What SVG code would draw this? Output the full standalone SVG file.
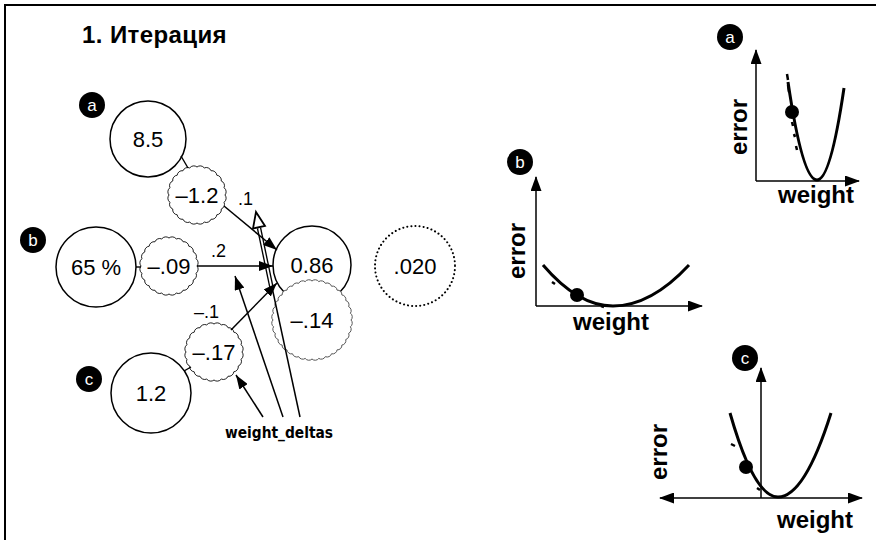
<svg xmlns="http://www.w3.org/2000/svg" xmlns:xlink="http://www.w3.org/1999/xlink" width="881" height="540" viewBox="0 0 881 540">
<style>
.nd{fill:#fff;stroke:#000;stroke-width:1.5}
.wv{fill:#fff;stroke:#222;stroke-width:1}
.wv2{fill:#fff;stroke:#555;stroke-width:1}
.dt{fill:#fff;stroke:#000;stroke-width:2;stroke-dasharray:0.1 4;stroke-linecap:round}
.t{font-family:"Liberation Sans",Arial,sans-serif;font-size:22px;text-anchor:middle;fill:#000}
.lb{font-family:"Liberation Sans",Arial,sans-serif;font-size:18px;fill:#000}
.bd{fill:#000}
.bt{font-family:"Liberation Sans",Arial,sans-serif;font-size:17px;text-anchor:middle;fill:#fff}
.cn{stroke:#000;stroke-width:1.5;fill:none;marker-end:url(#ah)}
.ln{stroke:#000;stroke-width:1.4;fill:none}
.ax{stroke:#000;stroke-width:1.5;fill:none;marker-end:url(#ax)}
.cv{stroke:#000;stroke-width:3;fill:none}
.tk{stroke:#000;stroke-width:2.5;fill:none}
.at{font-family:"Liberation Sans",Arial,sans-serif;font-weight:bold;font-size:24px;fill:#000}
.ti{font-family:"Liberation Sans",Arial,sans-serif;font-weight:bold;font-size:24px;fill:#000;letter-spacing:0.4px}
.wd{font-family:"DejaVu Sans Condensed","DejaVu Sans",sans-serif;font-stretch:condensed;font-weight:bold;font-size:16px;fill:#000}
</style>
<defs>
<marker id="ah" markerUnits="userSpaceOnUse" markerWidth="14" markerHeight="10" refX="14" refY="5" orient="auto">
<path d="M0,0 L14,5 L0,10 Z" fill="#000"/>
</marker>
<marker id="ax" markerUnits="userSpaceOnUse" markerWidth="15" markerHeight="11" refX="14" refY="5.5" orient="auto-start-reverse">
<path d="M0,0 L15,5.5 L0,11 Z" fill="#000"/>
</marker>
<path id="w28" d="M28,0 A5,5 0 0 1 27.05,7.25 A5,5 0 0 1 24.25,14 A5,5 0 0 1 19.8,19.8 A5,5 0 0 1 14,24.25 A5,5 0 0 1 7.25,27.05 A5,5 0 0 1 0,28 A5,5 0 0 1 -7.25,27.05 A5,5 0 0 1 -14,24.25 A5,5 0 0 1 -19.8,19.8 A5,5 0 0 1 -24.25,14 A5,5 0 0 1 -27.05,7.25 A5,5 0 0 1 -28,0 A5,5 0 0 1 -27.05,-7.25 A5,5 0 0 1 -24.25,-14 A5,5 0 0 1 -19.8,-19.8 A5,5 0 0 1 -14,-24.25 A5,5 0 0 1 -7.25,-27.05 A5,5 0 0 1 0,-28 A5,5 0 0 1 7.25,-27.05 A5,5 0 0 1 14,-24.25 A5,5 0 0 1 19.8,-19.8 A5,5 0 0 1 24.25,-14 A5,5 0 0 1 27.05,-7.25 A5,5 0 0 1 28,0 Z"/>
<path id="w39" d="M39,0 A4.5,4.5 0 0 1 38.41,6.77 A4.5,4.5 0 0 1 36.65,13.34 A4.5,4.5 0 0 1 33.77,19.5 A4.5,4.5 0 0 1 29.87,25.07 A4.5,4.5 0 0 1 25.07,29.87 A4.5,4.5 0 0 1 19.5,33.77 A4.5,4.5 0 0 1 13.34,36.65 A4.5,4.5 0 0 1 6.77,38.41 A4.5,4.5 0 0 1 0,39 A4.5,4.5 0 0 1 -6.77,38.41 A4.5,4.5 0 0 1 -13.34,36.65 A4.5,4.5 0 0 1 -19.5,33.77 A4.5,4.5 0 0 1 -25.07,29.87 A4.5,4.5 0 0 1 -29.87,25.07 A4.5,4.5 0 0 1 -33.77,19.5 A4.5,4.5 0 0 1 -36.65,13.34 A4.5,4.5 0 0 1 -38.41,6.77 A4.5,4.5 0 0 1 -39,0 A4.5,4.5 0 0 1 -38.41,-6.77 A4.5,4.5 0 0 1 -36.65,-13.34 A4.5,4.5 0 0 1 -33.77,-19.5 A4.5,4.5 0 0 1 -29.87,-25.07 A4.5,4.5 0 0 1 -25.07,-29.87 A4.5,4.5 0 0 1 -19.5,-33.77 A4.5,4.5 0 0 1 -13.34,-36.65 A4.5,4.5 0 0 1 -6.77,-38.41 A4.5,4.5 0 0 1 0,-39 A4.5,4.5 0 0 1 6.77,-38.41 A4.5,4.5 0 0 1 13.34,-36.65 A4.5,4.5 0 0 1 19.5,-33.77 A4.5,4.5 0 0 1 25.07,-29.87 A4.5,4.5 0 0 1 29.87,-25.07 A4.5,4.5 0 0 1 33.77,-19.5 A4.5,4.5 0 0 1 36.65,-13.34 A4.5,4.5 0 0 1 38.41,-6.77 A4.5,4.5 0 0 1 39,0 Z"/>
</defs>

<rect width="881" height="540" fill="#fff"/>
<g id="frame">
<path d="M5,540 L5,5 L876,5" stroke="#000" stroke-width="2" fill="none"/>
</g>

<text class="ti" x="82" y="43">1. Итерация</text>

<g id="badge-a"><circle class="bd" cx="92" cy="105" r="13"/><text class="bt" x="92" y="111">a</text></g>
<g id="badge-b"><circle class="bd" cx="33" cy="240" r="13"/><text class="bt" x="33" y="246">b</text></g>
<g id="badge-c"><circle class="bd" cx="89" cy="379" r="13"/><text class="bt" x="89" y="385">c</text></g>

<g id="node-input-a"><circle class="nd" cx="148" cy="139" r="38"/><text class="t" x="148" y="147">8.5</text></g>
<g id="node-weight-a"><use xlink:href="#w28" href="#w28" class="wv" x="197" y="195"/><text class="t" x="197" y="203">–1.2</text></g>
<g id="node-input-b"><circle class="nd" cx="96" cy="267" r="40"/><text class="t" x="96" y="275">65 %</text></g>
<g id="node-weight-b"><use xlink:href="#w28" href="#w28" class="wv" x="169" y="266"/><text class="t" x="169" y="274">–.09</text></g>
<g id="node-input-c"><circle class="nd" cx="151" cy="393" r="40"/><text class="t" x="151" y="401">1.2</text></g>
<g id="node-weight-c"><use xlink:href="#w28" href="#w28" class="wv" x="214" y="352"/><text class="t" x="214" y="360">–.17</text></g>
<g id="node-pred"><circle class="nd" cx="312" cy="265" r="39"/><text class="t" x="312" y="273">0.86</text></g>
<g id="node-delta"><use xlink:href="#w39" href="#w39" class="wv2" x="312" y="320"/><text class="t" x="312" y="328">–.14</text></g>
<g id="node-error"><circle class="dt" cx="415" cy="266" r="40"/><text class="t" x="415" y="274">.020</text></g>

<g id="connectors">
<line class="ln" x1="181" y1="156" x2="188" y2="168"/>
<line class="ln" x1="136" y1="267" x2="141" y2="267"/>
<line class="ln" x1="184" y1="371" x2="191" y2="367"/>
<path d="M300,417 L259,227" stroke="#000" stroke-width="1.5" fill="none"/>
<path d="M272,290 L259,228" stroke="#000" stroke-width="4.5" fill="none"/>
<path d="M272,290 L259,228" stroke="#fff" stroke-width="1.8" fill="none"/>
<path d="M256,212 L265,226 L253,228.5 Z" fill="#fff" stroke="#000" stroke-width="1.8"/>
<path class="cn" d="M224,206 L277,250"/>
<path class="cn" d="M197,266 L273,266"/>
<path class="cn" d="M231,330 L277,283"/>
<path class="cn" d="M263,417 L236,375"/>
<path class="cn" d="M283,417 L235,276"/>
<text class="lb" x="238" y="205">.1</text>
<text class="lb" x="211" y="257">.2</text>
<text class="lb" x="194" y="318">–.1</text>
</g>

<text class="wd" x="225" y="438" textLength="108" lengthAdjust="spacingAndGlyphs">weight_deltas</text>

<g id="chart-a">
<circle class="bd" cx="730" cy="37" r="13"/><text class="bt" x="730" y="43">a</text>
<path class="ax" d="M756,181 L756,50"/>
<path class="ax" d="M756,181 L859,181"/>
<path class="cv" d="M788,82 Q802.5,180 817,180 Q830.5,180 844,88"/>
<path class="tk" d="M787,74 L788,80 M788,85 L789,92 M792,122 L793,126 M794,134 L795,137 M796,146 L797,150"/>
<circle cx="792" cy="112" r="7" fill="#000"/>
<text class="at" transform="translate(747,127) rotate(-90)" text-anchor="middle">error</text>
<text class="at" x="778" y="203">weight</text>
</g>

<g id="chart-b">
<circle class="bd" cx="520" cy="162" r="13"/><text class="bt" x="520" y="168">b</text>
<path class="ax" d="M536,306 L536,177"/>
<path class="ax" d="M536,306 L702,306"/>
<path class="cv" d="M543,265 Q578,306 613,306 Q651,306 689,265"/>
<path class="tk" d="M552,282 L555,284 M601,306 L604,307"/>
<circle cx="577" cy="295" r="7" fill="#000"/>
<text class="at" transform="translate(525,251) rotate(-90)" text-anchor="middle">error</text>
<text class="at" x="573" y="330">weight</text>
</g>

<g id="chart-c">
<circle class="bd" cx="745" cy="358" r="13"/><text class="bt" x="745" y="364">c</text>
<path class="ax" d="M761,498 L761,368"/>
<path class="ax" style="marker-start:url(#ax)" d="M660,498 L862,498"/>
<path class="cv" d="M730,413 Q754,497 778,497 Q804.5,497 831,413"/>
<path class="tk" d="M731,444 L735,446 M757,488 L760,490"/>
<circle cx="746" cy="467" r="7" fill="#000"/>
<text class="at" transform="translate(667,452) rotate(-90)" text-anchor="middle">error</text>
<text class="at" x="777" y="528">weight</text>
</g>
</svg>
